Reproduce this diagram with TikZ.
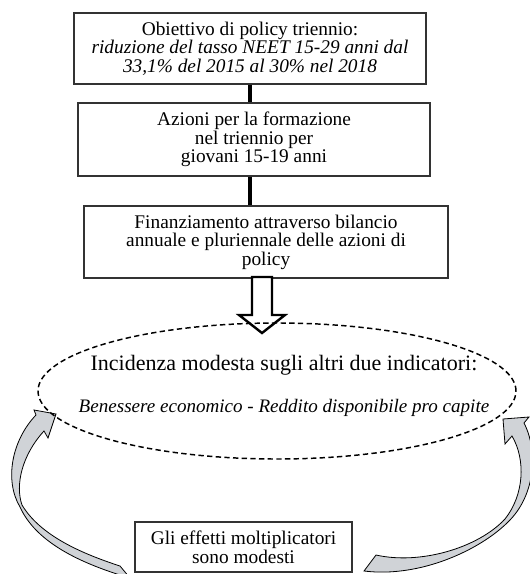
\documentclass[tikz,border=0pt]{standalone}
\usepackage{fontspec}
\setmainfont{Liberation Serif}
\usetikzlibrary{shapes.geometric}
\definecolor{arrowgray}{RGB}{208,211,215}
\begin{document}
\begin{tikzpicture}[x=0.75pt,y=-0.75pt]
    \tikzstyle{box}=[draw=black!80,line width=0.8pt,align=center,inner sep=0pt,font=\fontsize{14.5}{13.9}\selectfont]
    \tikzstyle{incid}=[ellipse,draw=black,line width=1.1pt,dash pattern=on 4pt off 2.5pt,inner sep=0pt,minimum width=358.5pt,minimum height=102pt]
    \tikzstyle{link}=[draw=black,line width=2.6pt]
    \tikzstyle{hollow}=[draw=black,fill=white,line width=1.8pt,line join=miter]
    \tikzstyle{curved}=[draw=black,fill=arrowgray,line width=0.6pt,line join=miter]

    \useasboundingbox (0,0) rectangle (530,574);
    \clip (0,0) rectangle (530,574);

    \node[box,minimum width=264pt,minimum height=53.25pt] (obj) at (250,48.5)
        {Obiettivo di policy triennio:\\ \textit{riduzione del tasso NEET 15-29 anni dal}\\ \textit{33,1\% del 2015 al 30\% nel 2018}};
    \node[box,minimum width=264pt,minimum height=54.75pt] (azioni) at (254,139.5)
        {Azioni per la formazione\\ nel triennio per\\ giovani 15-19 anni};
    \node[box,minimum width=273pt,minimum height=54pt] (fin) at (266,242)
        {Finanziamento attraverso bilancio\\ annuale e pluriennale delle azioni di\\ policy};
    \node[box,minimum width=162.75pt,minimum height=37.5pt,font=\fontsize{14.5}{14.5}\selectfont] (molt) at (243.5,547)
        {Gli effetti moltiplicatori\\ sono modesti};

    % thick links between the boxes
    \draw [link] (obj.south) -- (obj.south |- azioni.north);
    \draw [link] (azioni.south -| obj.south) -- (fin.north -| obj.south);

    % hollow block arrow
    \coordinate (ftop) at (262,277);
    \draw [hollow] (ftop) ++(-10,0) -- ++(0,38) -- ++(-13,0) -- ++(23,18)
        -- ++(23,-18) -- ++(-13,0) -- ++(0,-38) -- cycle;

    % curved feedback arrows
    \draw [curved] (56,414) -- (34,410) -- (36,415)
        .. controls (12,440) and (4,480) .. (20,507)
        .. controls (35,540) and (75,562) .. (130,578)
        -- (120,566)
        .. controls (80,553) and (40,535) .. (22,505)
        .. controls (15,485) and (22,455) .. (44,431)
        -- (48,438) -- cycle;
    \draw [curved] (503,419) -- (529,417) -- (524,423)
        .. controls (538,450) and (536,495) .. (508,522)
        .. controls (480,550) and (420,578) .. (364,571)
        -- (376,555)
        .. controls (420,565) and (478,548) .. (505,519)
        .. controls (524,495) and (526,460) .. (512,436)
        -- (505,444) -- cycle;

    \node[incid] (incid) at (277,391) {};
    \node[align=center,inner sep=0pt,font=\fontsize{14.3}{18}\selectfont] (incidtxt) at (284,386)
        {{\fontsize{16.5}{18}\selectfont Incidenza modesta sugli altri due indicatori:}\\[14pt]
         \textit{Benessere economico - Reddito disponibile pro capite}};
\end{tikzpicture}
\end{document}
